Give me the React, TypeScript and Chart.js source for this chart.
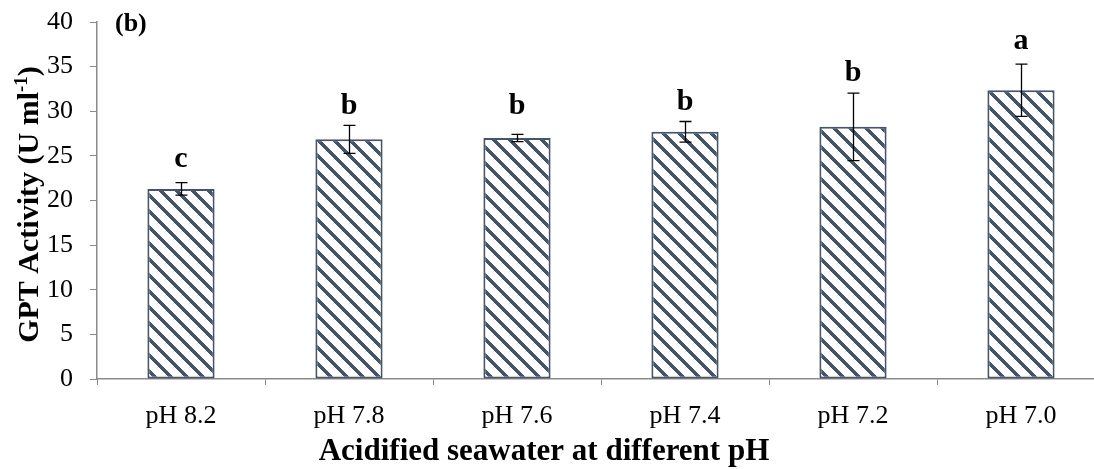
import React, { useEffect, useRef } from "react";
import { Chart, registerables } from "chart.js";

Chart.register(...registerables);

// GPT activity of the test animals reared in acidified seawater
const categories = ["pH 8.2", "pH 7.8", "pH 7.6", "pH 7.4", "pH 7.2", "pH 7.0"];
const gptMeans = [21.3, 26.85, 27.0, 27.7, 28.25, 32.35];
const gptSD = [0.7, 1.57, 0.4, 1.15, 3.78, 2.93];
const groupLetters = ["c", "b", "b", "b", "b", "a"];
const yMin = 0;
const yMax = 40;
const yStep = 5;

const SERIF = "'Liberation Serif', 'Times New Roman', serif";
const AXIS_GREY = "#8a8a8a";
const BAR_INK = "#44546A";
// vertical gap (px) between each error-bar cap and its significance letter
const LETTER_GAP = [16, 11, 20, 12, 12, 15];

function makeHatch(): CanvasPattern | string {
  const size = 16;
  const band = 5;
  const c = document.createElement("canvas");
  c.width = size;
  c.height = size;
  const ctx = c.getContext("2d");
  if (!ctx) return BAR_INK;
  const img = ctx.createImageData(size, size);
  for (let y = 0; y < size; y++) {
    for (let x = 0; x < size; x++) {
      const d = (((x - y) % size) + size) % size;
      const k = (y * size + x) * 4;
      if (d < band) {
        img.data[k] = 0x44;
        img.data[k + 1] = 0x54;
        img.data[k + 2] = 0x6a;
      } else {
        img.data[k] = 255;
        img.data[k + 1] = 255;
        img.data[k + 2] = 255;
      }
      img.data[k + 3] = 255;
    }
  }
  ctx.putImageData(img, 0, 0);
  return ctx.createPattern(c, "repeat") || BAR_INK;
}

const errorBarsAndLetters = {
  id: "errorBarsAndLetters",
  afterDatasetsDraw(chart: any) {
    const ctx = chart.ctx as CanvasRenderingContext2D;
    const meta = chart.getDatasetMeta(0);
    const yScale = chart.scales.y;
    ctx.save();
    ctx.strokeStyle = "#000";
    ctx.lineWidth = 1.3;
    ctx.fillStyle = "#000";
    ctx.font = `bold 30px ${SERIF}`;
    ctx.textAlign = "center";
    ctx.textBaseline = "alphabetic";
    meta.data.forEach((bar: any, i: number) => {
      const x = Math.round(bar.x) + 0.5;
      const top = yScale.getPixelForValue(gptMeans[i] + gptSD[i]);
      const bot = yScale.getPixelForValue(gptMeans[i] - gptSD[i]);
      const cap = 6;
      ctx.beginPath();
      ctx.moveTo(x, top);
      ctx.lineTo(x, bot);
      ctx.moveTo(x - cap, top);
      ctx.lineTo(x + cap, top);
      ctx.moveTo(x - cap, bot);
      ctx.lineTo(x + cap, bot);
      ctx.stroke();
      ctx.fillText(groupLetters[i], bar.x, top - LETTER_GAP[i]);
    });
    ctx.restore();
  },
};

const axisTitles = {
  id: "axisTitles",
  afterDraw(chart: any) {
    const ctx = chart.ctx as CanvasRenderingContext2D;
    const area = chart.chartArea;
    ctx.save();
    ctx.fillStyle = "#000";

    // panel tag
    ctx.font = `bold 26px ${SERIF}`;
    ctx.textAlign = "left";
    ctx.textBaseline = "middle";
    ctx.fillText("(b)", area.left + 18, area.top + 2);

    // x-axis title
    ctx.font = `bold 31px ${SERIF}`;
    ctx.textAlign = "center";
    ctx.textBaseline = "middle";
    ctx.fillText("Acidified seawater at different pH", 544, 452);

    // y-axis title with superscript unit
    const main = "GPT Activity (U ml";
    const sup = "-1";
    const close = ")";
    const bigFont = `bold 30px ${SERIF}`;
    const smallFont = `bold 19px ${SERIF}`;
    ctx.font = bigFont;
    const w1 = ctx.measureText(main).width;
    const w3 = ctx.measureText(close).width;
    ctx.font = smallFont;
    const w2 = ctx.measureText(sup).width;
    const total = w1 + w2 + w3;
    const cy = (area.top + area.bottom) / 2 + 4;
    ctx.translate(28, cy);
    ctx.rotate(-Math.PI / 2);
    ctx.textAlign = "left";
    ctx.textBaseline = "alphabetic";
    const base = 10;
    let x = -total / 2;
    ctx.font = bigFont;
    ctx.fillText(main, x, base);
    x += w1;
    ctx.font = smallFont;
    ctx.fillText(sup, x, base - 11);
    x += w2;
    ctx.font = bigFont;
    ctx.fillText(close, x, base);
    ctx.restore();
  },
};

export default function App() {
  const canvasRef = useRef<HTMLCanvasElement | null>(null);

  useEffect(() => {
    document.body.style.margin = "0";
    const canvas = canvasRef.current;
    if (!canvas) return;
    const hatch = makeHatch();
    const chart = new Chart(canvas, {
      type: "bar",
      data: {
        labels: categories,
        datasets: [
          {
            data: gptMeans,
            backgroundColor: hatch as any,
            borderColor: BAR_INK,
            borderWidth: 2,
            borderSkipped: false,
            barPercentage: 0.4,
            categoryPercentage: 1,
          },
        ],
      },
      options: {
        animation: false,
        responsive: false,
        maintainAspectRatio: false,
        devicePixelRatio: 1,
        layout: { padding: { left: 0, right: 5, top: 22, bottom: 0 } },
        plugins: {
          legend: { display: false },
          tooltip: { enabled: false },
        },
        scales: {
          x: {
            grid: {
              display: true,
              drawOnChartArea: false,
              drawTicks: true,
              tickLength: 6,
              color: AXIS_GREY,
              offset: true,
            },
            border: { display: true, color: AXIS_GREY, width: 1.5 },
            ticks: {
              color: "#000",
              font: { family: SERIF, size: 26 },
              padding: 16,
              maxRotation: 0,
              autoSkip: false,
            },
            afterFit: (s: any) => {
              s.height = 90;
              s.paddingLeft = 0;
              s.paddingRight = 0;
            },
          },
          y: {
            min: yMin,
            max: yMax,
            grid: {
              display: true,
              drawOnChartArea: false,
              drawTicks: true,
              tickLength: 7,
              color: AXIS_GREY,
            },
            border: { display: true, color: AXIS_GREY, width: 1.5 },
            ticks: {
              stepSize: yStep,
              color: "#000",
              font: { family: SERIF, size: 26 },
              padding: 17,
            },
            afterFit: (s: any) => {
              s.width = 97;
              s.paddingTop = 0;
              s.paddingBottom = 0;
            },
          },
        },
      },
      plugins: [errorBarsAndLetters, axisTitles],
    });
    return () => chart.destroy();
  }, []);

  return (
    <div style={{ width: 1094, height: 469, overflow: "hidden", position: "relative" }}>
      <canvas ref={canvasRef} width={1110} height={469} style={{ display: "block" }} />
    </div>
  );
}
